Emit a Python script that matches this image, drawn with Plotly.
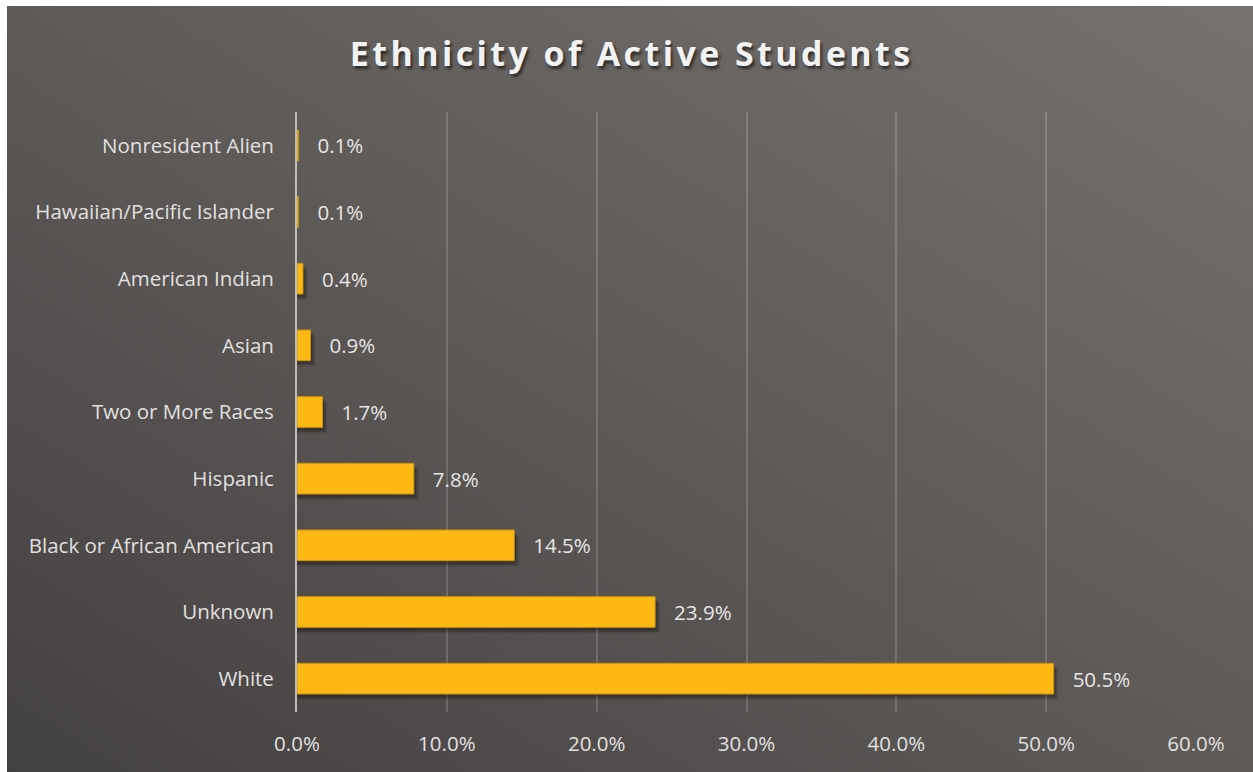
import base64
import plotly.graph_objects as go

# Data (bottom to top)
categories = ["White", "Unknown", "Black or African American", "Hispanic",
              "Two or More Races", "Asian", "American Indian",
              "Hawaiian/Pacific Islander", "Nonresident Alien"]
shares = [0.505, 0.239, 0.145, 0.078, 0.017, 0.009, 0.004, 0.001, 0.001]
x_ticks = [0.0, 0.1, 0.2, 0.3, 0.4, 0.5, 0.6]
title_text = "Ethnicity of Active Students"

W, H = 1253, 772
L, R, T, B = 297, 1253 - 1196, 112, 772 - 712
pw, ph = W - L - R, H - T - B

def px_to_paper_x(px):
    return (px - L) / pw

def px_to_paper_y(py):
    return (H - B - py) / ph

svg = """<svg xmlns='http://www.w3.org/2000/svg' width='100' height='100' viewBox='0 0 100 100' preserveAspectRatio='none'>
<defs><linearGradient id='g' x1='0' y1='1' x2='1' y2='0'>
<stop offset='0' stop-color='#434040'/>
<stop offset='0.5' stop-color='#5e5a58'/>
<stop offset='1' stop-color='#75716f'/>
</linearGradient></defs>
<rect x='0' y='0' width='100' height='100' fill='url(#g)'/></svg>"""
bg_src = "data:image/svg+xml;base64," + base64.b64encode(svg.encode()).decode()

# letter-spaced title (hair spaces)
spaced_title = "\u200a".join(title_text)

lab_size = 20.5
bar_w = 0.46
fig = go.Figure()
# soft drop shadows
for dx, dy, a in [(0.0035, 0.09, 0.08), (0.0025, 0.07, 0.13), (0.0015, 0.05, 0.18)]:
    fig.add_trace(go.Bar(
        y=categories, x=[v + dx if v > 0.002 else 0 for v in shares], orientation="h",
        width=bar_w, offset=-bar_w / 2 - dy,
        marker=dict(color=f"rgba(0,0,0,{a})", line=dict(width=0)),
        hoverinfo="skip", showlegend=False))

fig.add_trace(go.Bar(
    y=categories, x=shares, orientation="h", width=bar_w,
    marker=dict(color="#FDB913", line=dict(color="#C8920F", width=1)),
    text=["\u00a0\u00a0\u00a0" + f"{v*100:.1f}%" for v in shares],
    textposition="outside", cliponaxis=False,
    textfont=dict(family="Open Sans", size=lab_size, color="#E6E6E6"),
    showlegend=False))

fig.update_layout(
    width=W, height=H,
    margin=dict(l=L, r=R, t=T, b=B),
    paper_bgcolor="white",
    plot_bgcolor="rgba(0,0,0,0)",
    barmode="overlay",
    title=dict(text=spaced_title, x=630 / W, xanchor="center",
               y=1 - 54 / H, yanchor="middle",
               font=dict(family="Open Sans", size=34, color="#F2F2F2", weight="bold",
                         shadow="2px 3px 3px rgba(0,0,0,0.55)")),
    font=dict(family="Open Sans", size=lab_size, color="#E0E0E0"),
    xaxis=dict(range=[0, 0.6], tickvals=x_ticks, tickformat=".1%",
               showgrid=True, gridcolor="rgba(255,255,255,0.16)", gridwidth=1.5,
               zeroline=False, showline=False, ticks="",
               ticklabelstandoff=17, tickfont=dict(family="Open Sans", size=lab_size, color="#E0E0E0")),
    yaxis=dict(categoryorder="array", categoryarray=categories,
               showline=True, linecolor="#BDBDBD", linewidth=2,
               showgrid=False, ticks="", ticklabelstandoff=17,
               tickfont=dict(family="Open Sans", size=lab_size, color="#E0E0E0")),
    images=[dict(source=bg_src, xref="paper", yref="paper",
                 x=px_to_paper_x(7), y=px_to_paper_y(6),
                 sizex=px_to_paper_x(W) - px_to_paper_x(7),
                 sizey=px_to_paper_y(6) - px_to_paper_y(H),
                 xanchor="left", yanchor="top", sizing="stretch", layer="below")],
)

fig.write_html("out.html", config={"displayModeBar": False},
               post_script="document.body.style.margin='0';document.body.style.padding='0';")
